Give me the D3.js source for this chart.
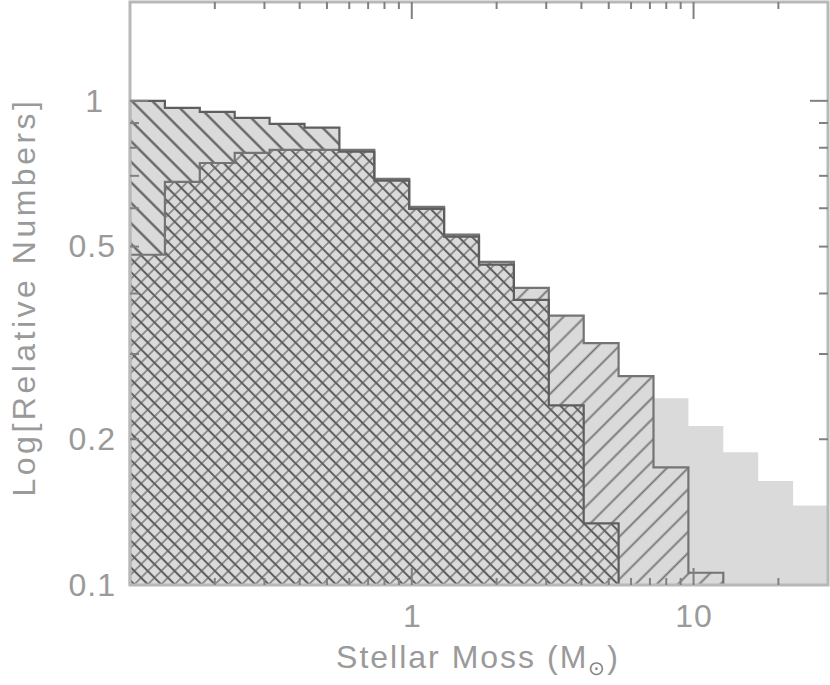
<!DOCTYPE html>
<html>
<head>
<meta charset="utf-8">
<script src="https://cdn.jsdelivr.net/npm/d3@7"></script>
<style>
  body { margin: 0; background: #fff; }
  svg { display: block; }
</style>
</head>
<body>
<svg id="chart" width="830" height="685"></svg>
<script>
// 20 equal bins in log(M) spanning the x range
const massRange = [0.1, 30];
const binCount = 20;
const numberRange = [0.1, 1.6];

// relative numbers per bin (0 = empty bin)
const hatchedDown = [1.00, 0.967, 0.949, 0.922, 0.896, 0.880, 0.785, 0.684, 0.598, 0.524,
                     0.459, 0.388, 0.235, 0.134, 0, 0, 0, 0, 0, 0];
const hatchedUp = [0.481, 0.680, 0.744, 0.781, 0.792, 0.792, 0.792, 0.690, 0.604, 0.529,
                   0.465, 0.411, 0.360, 0.316, 0.270, 0.175, 0.106, 0, 0, 0];
const solidAll = [0.95, 0.93, 0.92, 0.90, 0.87, 0.85, 0.77, 0.67, 0.59, 0.51,
                  0.45, 0.38, 0.34, 0.30, 0.26, 0.243, 0.213, 0.188, 0.164, 0.146];

const xMajorTicks = [1, 10];
const xMinorTicks = [0.2, 0.3, 0.4, 0.5, 0.6, 0.7, 0.8, 0.9, 2, 3, 4, 5, 6, 7, 8, 9, 20];
const yMajorTicks = [1];
const yMinorTicks = [0.2, 0.3, 0.4, 0.5, 0.6, 0.7, 0.8, 0.9];
const yLabelTicks = [0.1, 0.2, 0.5, 1];

const plotLeft = 130, plotRight = 828, plotTop = 2, plotBottom = 585;
const fillGray = "#dadada";
const textGray = "#9a9a9a";

const svg = d3.select("#chart");

const x = d3.scaleLog().domain(massRange).range([plotLeft, plotRight]);
const y = d3.scaleLog().domain(numberRange).range([plotBottom, plotTop]);

const logStep = (Math.log10(massRange[1]) - Math.log10(massRange[0])) / binCount;
const edges = d3.range(binCount + 1).map(k => 10 ** (Math.log10(massRange[0]) + k * logStep));

// overlap of the two hatched histograms gets the cross hatch
const overlap = hatchedDown.map((v, i) => Math.min(v, hatchedUp[i]));

const defs = svg.append("defs");

// lines: [color, width] for the "/" line and the "\" line of a rotated cell
function addHatch(id, size, slash, backslash) {
  const p = defs.append("pattern")
    .attr("id", id)
    .attr("patternUnits", "userSpaceOnUse")
    .attr("width", size)
    .attr("height", size)
    .attr("patternTransform", "rotate(45)");
  p.append("rect").attr("width", size).attr("height", size).attr("fill", fillGray);
  if (slash) {
    p.append("line")
      .attr("x1", size / 2).attr("x2", size / 2)
      .attr("y1", 0).attr("y2", size)
      .attr("stroke", slash[0]).attr("stroke-width", slash[1]);
  }
  if (backslash) {
    p.append("line")
      .attr("x1", 0).attr("x2", size)
      .attr("y1", size / 2).attr("y2", size / 2)
      .attr("stroke", backslash[0]).attr("stroke-width", backslash[1]);
  }
}

addHatch("hatch-down", 14.5, null, ["#5c5c5c", 2.2]);
addHatch("hatch-up", 15, ["#737373", 1.8], null);
addHatch("hatch-cross", 9.5, ["#7e7e7e", 1.6], ["#5e5e5e", 2]);

// step outline of a histogram, closed back to the bottom axis
function stepPoints(vals) {
  const last = d3.max(vals.map((v, i) => v > 0 ? i : -1));
  const pts = [[x(edges[0]), plotBottom]];
  for (let i = 0; i <= last; i++) {
    const yy = vals[i] > 0 ? y(vals[i]) : plotBottom;
    pts.push([x(edges[i]), yy], [x(edges[i + 1]), yy]);
  }
  pts.push([x(edges[last + 1]), plotBottom]);
  return pts;
}

const line = d3.line();

const plot = svg.append("g");

plot.append("path")
  .attr("d", line(stepPoints(solidAll)) + "Z")
  .attr("fill", fillGray);

plot.append("path")
  .attr("d", line(stepPoints(hatchedDown)) + "Z")
  .attr("fill", "url(#hatch-down)");

plot.append("path")
  .attr("d", line(stepPoints(hatchedUp)) + "Z")
  .attr("fill", "url(#hatch-up)");

plot.append("path")
  .attr("d", line(stepPoints(overlap)) + "Z")
  .attr("fill", "url(#hatch-cross)");

// outlines
plot.append("path")
  .attr("d", line(stepPoints(hatchedUp)))
  .attr("fill", "none")
  .attr("stroke", "#747474")
  .attr("stroke-width", 2.2);

plot.append("path")
  .attr("d", line(stepPoints(hatchedDown)))
  .attr("fill", "none")
  .attr("stroke", "#5e5e5e")
  .attr("stroke-width", 2.2);

// frame
svg.append("rect")
  .attr("x", plotLeft).attr("y", plotTop)
  .attr("width", plotRight - plotLeft).attr("height", plotBottom - plotTop)
  .attr("fill", "none")
  .attr("stroke", "#b8b8b8")
  .attr("stroke-width", 3);

// ticks on all four sides, pointing inward
const tickColor = "#808080";
const ticks = svg.append("g").attr("stroke", tickColor).attr("stroke-width", 2);

function xTicks(vals, len) {
  ticks.selectAll(null).data(vals).join("line")
    .attr("x1", d => x(d)).attr("x2", d => x(d))
    .attr("y1", plotBottom).attr("y2", plotBottom - len);
  ticks.selectAll(null).data(vals).join("line")
    .attr("x1", d => x(d)).attr("x2", d => x(d))
    .attr("y1", plotTop).attr("y2", plotTop + len);
}
function yTicks(vals, len) {
  ticks.selectAll(null).data(vals).join("line")
    .attr("x1", plotLeft).attr("x2", plotLeft + len)
    .attr("y1", d => y(d)).attr("y2", d => y(d));
  ticks.selectAll(null).data(vals).join("line")
    .attr("x1", plotRight).attr("x2", plotRight - len)
    .attr("y1", d => y(d)).attr("y2", d => y(d));
}
xTicks(xMinorTicks, 7);
xTicks(xMajorTicks, 17);
yTicks(yMinorTicks, 9);
yTicks(yMajorTicks, 18);

// tick labels via d3 axes
const font = "'Liberation Sans', Arial, sans-serif";

const xAxis = svg.append("g")
  .attr("transform", `translate(0,${plotBottom})`)
  .call(d3.axisBottom(x).tickValues(xMajorTicks).tickSize(0).tickPadding(19)
    .tickFormat(d3.format("d")));
const yAxis = svg.append("g")
  .attr("transform", `translate(${plotLeft},0)`)
  .call(d3.axisLeft(y).tickValues(yLabelTicks).tickSize(0).tickPadding(14)
    .tickFormat(d => String(d)));

[xAxis, yAxis].forEach(g => {
  g.select(".domain").remove();
  g.selectAll("text")
    .attr("font-family", font)
    .attr("font-size", 32)
    .attr("fill", textGray)
    .attr("letter-spacing", 1);
});
yAxis.selectAll("text").filter(d => d === 1).attr("dx", -12);

// axis titles
const xTitle = svg.append("text")
  .attr("x", 478)
  .attr("y", 668)
  .attr("text-anchor", "middle")
  .attr("font-family", font)
  .attr("font-size", 32)
  .attr("letter-spacing", 2)
  .attr("fill", textGray)
  .text("Stellar Moss (M");
xTitle.append("tspan")
  .attr("font-size", 20)
  .attr("dy", 7)
  .attr("fill", "#808080")
  .text("\u2299");
xTitle.append("tspan")
  .attr("dy", -7)
  .text(")");

svg.append("text")
  .attr("transform", "translate(35,297) rotate(-90)")
  .attr("text-anchor", "middle")
  .attr("font-family", font)
  .attr("font-size", 32)
  .attr("letter-spacing", 3.5)
  .attr("fill", textGray)
  .text("Log[Relative Numbers]");
</script>
</body>
</html>
